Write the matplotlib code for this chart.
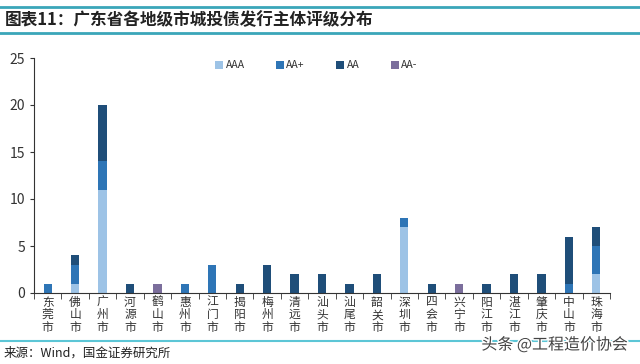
import matplotlib.pyplot as plt
import matplotlib.patheffects as pe
import numpy as np

plt.rcParams['font.family'] = ['Noto Sans CJK SC', 'DejaVu Sans']

cities = ['东莞市', '佛山市', '广州市', '河源市', '鹤山市', '惠州市', '江门市',
          '揭阳市', '梅州市', '清远市', '汕头市', '汕尾市', '韶关市', '深圳市',
          '四会市', '兴宁市', '阳江市', '湛江市', '肇庆市', '中山市', '珠海市']
aaa = [0, 1, 11, 0, 0, 0, 0, 0, 0, 0, 0, 0, 0, 7, 0, 0, 0, 0, 0, 0, 2]
aa_plus = [1, 2, 3, 0, 0, 1, 3, 0, 0, 0, 0, 0, 0, 1, 0, 0, 0, 0, 0, 1, 3]
aa = [0, 1, 6, 1, 0, 0, 0, 1, 3, 2, 2, 1, 2, 0, 1, 0, 1, 2, 2, 5, 2]
aa_minus = [0, 0, 0, 0, 1, 0, 0, 0, 0, 0, 0, 0, 0, 0, 0, 1, 0, 0, 0, 0, 0]

series = [('AAA', aaa, '#9dc3e6'), ('AA+', aa_plus, '#2e75b6'),
          ('AA', aa, '#1f4e79'), ('AA-', aa_minus, '#7b6e9c')]

fig = plt.figure(figsize=(6.4, 3.64), dpi=100)
ax = fig.add_axes([34 / 640, 1 - 293 / 364, (610 - 34) / 640, (293 - 58) / 364])

x = np.arange(len(cities))
bottom = np.zeros(len(cities))
for name, vals, col in series:
    ax.bar(x, vals, 0.3, bottom=bottom, color=col, label=name)
    bottom += np.array(vals)

ax.set_xlim(-0.5, len(cities) - 0.5)
ax.set_ylim(0, 25)
ax.set_yticks(range(0, 26, 5))
ax.set_xticks(x)
ax.set_xticklabels(['\n'.join(c) for c in cities], fontsize=8.5, linespacing=0.95,
                   color='#333333')
ax.set_xticks(np.arange(-0.5, len(cities), 1), minor=True)
ax.tick_params(axis='x', which='major', length=0, pad=2)
ax.tick_params(axis='x', which='minor', length=4, direction='out', color='#333333')
ax.tick_params(axis='y', length=3, labelsize=10, color='#333333', labelcolor='#333333')
for s in ['top', 'right']:
    ax.spines[s].set_visible(False)
for s in ['left', 'bottom']:
    ax.spines[s].set_color('#333333')

ax.legend(loc='upper center', bbox_to_anchor=(0.49, 1.03), ncol=4, frameon=False,
          fontsize=7.5, handlelength=0.8, handleheight=0.8, handletextpad=0.2,
          columnspacing=3.0, labelcolor='#333333')

# 标题和分隔线
fig.add_artist(plt.Line2D([0, 1], [1 - 7 / 364] * 2, color='#3aa6b9', lw=2))
fig.add_artist(plt.Line2D([0, 1], [1 - 33 / 364] * 2, color='#3aa6b9', lw=2))
fig.text(0.008, 1 - 20 / 364, '图表11：广东省各地级市城投债发行主体评级分布', fontsize=12,
         style='italic', weight='bold', color='#222222', va='center')
fig.add_artist(plt.Line2D([0, 1], [1 - 341 / 364] * 2, color='#5cc6d6', lw=1.5))
fig.text(0.005, 1 - 353 / 364, '来源：Wind，国金证券研究所', fontsize=9, color='#222222',
         va='center')
fig.text(628 / 640, 1 - 345 / 364, '头条 @工程造价协会', fontsize=11.5, color='#444444',
         ha='right', va='center',
         path_effects=[pe.withStroke(linewidth=2, foreground='white')])

fig.savefig('out.png', dpi=100)
